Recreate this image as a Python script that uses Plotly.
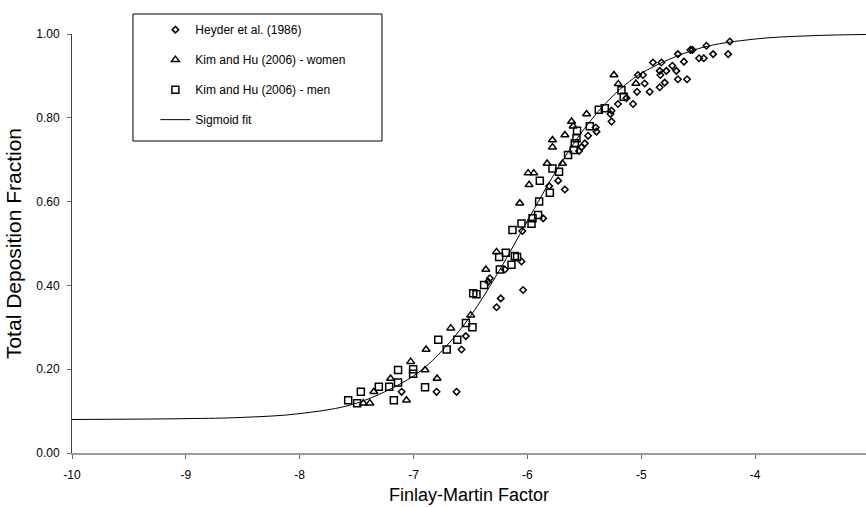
import plotly.graph_objects as go

# ---------------- data ----------------
heyder_x = [-7.105, -6.798, -6.622, -6.579, -6.541, -6.271, -6.234, -6.038, -6.345, -6.330,
            -6.198, -6.052, -6.045, -5.862, -5.809, -5.730, -5.671, -5.546, -5.525, -5.496,
            -5.467, -5.400, -5.393, -5.270, -5.261, -5.261, -5.204, -5.130, -5.072, -5.037,
            -4.926, -4.970, -5.029, -4.985, -4.838, -4.794, -4.832, -4.897, -4.823, -4.838,
            -4.780, -4.692, -4.727, -4.678, -4.625, -4.678, -4.598, -4.568, -4.550, -4.492,
            -4.451, -4.427, -4.369, -4.237, -4.222]
heyder_y = [0.146, 0.146, 0.146, 0.247, 0.279, 0.348, 0.369, 0.389, 0.409, 0.417,
            0.438, 0.457, 0.530, 0.560, 0.637, 0.650, 0.629, 0.721, 0.730, 0.739,
            0.757, 0.777, 0.767, 0.809, 0.791, 0.817, 0.833, 0.847, 0.833, 0.862,
            0.862, 0.882, 0.902, 0.902, 0.873, 0.884, 0.902, 0.932, 0.932, 0.912,
            0.912, 0.912, 0.924, 0.952, 0.934, 0.892, 0.892, 0.962, 0.962, 0.942,
            0.942, 0.972, 0.952, 0.952, 0.982]

women_x = [-7.442, -7.384, -7.349, -7.202, -7.062, -7.025, -6.899, -6.793, -6.890, -6.673,
           -6.498, -6.365, -6.271, -6.067, -5.985, -5.994, -5.944, -5.827, -5.692, -5.780,
           -5.780, -5.671, -5.612, -5.598, -5.480, -5.240, -5.202, -5.047]
women_y = [0.119, 0.119, 0.146, 0.178, 0.126, 0.218, 0.198, 0.178, 0.247, 0.298,
           0.329, 0.438, 0.480, 0.596, 0.640, 0.668, 0.668, 0.691, 0.691, 0.747,
           0.730, 0.759, 0.791, 0.780, 0.809, 0.902, 0.881, 0.882]

men_x = [-7.574, -7.495, -7.463, -7.305, -7.214, -7.173, -7.136, -7.136, -7.004, -7.004,
         -6.899, -6.783, -6.709, -6.616, -6.540, -6.483, -6.476, -6.447, -6.380, -6.248,
         -6.242, -6.190, -6.140, -6.111, -6.091, -6.131, -6.052, -5.964, -5.955, -5.906,
         -5.897, -5.803, -5.891, -5.780, -5.722, -5.643, -5.593, -5.584, -5.569, -5.564,
         -5.452, -5.373, -5.320, -5.174, -5.154]
men_y = [0.126, 0.119, 0.146, 0.158, 0.158, 0.126, 0.198, 0.168, 0.200, 0.189,
         0.157, 0.270, 0.247, 0.270, 0.310, 0.300, 0.381, 0.379, 0.401, 0.468,
         0.438, 0.478, 0.449, 0.470, 0.468, 0.532, 0.548, 0.547, 0.560, 0.568,
         0.600, 0.621, 0.650, 0.679, 0.671, 0.711, 0.723, 0.739, 0.751, 0.769,
         0.780, 0.819, 0.823, 0.866, 0.850]

# sigmoid fit curve at sample positions
fit_x = [-10.0, -9.0, -8.5, -8.0, -7.5, -7.0, -6.75, -6.5, -6.25, -6.0,
         -5.75, -5.5, -5.25, -5.0, -4.5, -4.0, -3.5, -3.0]
fit_y = [0.080, 0.082, 0.085, 0.094, 0.119, 0.184, 0.244, 0.327, 0.434, 0.554,
         0.672, 0.774, 0.852, 0.906, 0.965, 0.988, 0.996, 0.999]

x_tickvals = [-10, -9, -8, -7, -6, -5, -4, -3]
x_ticktext = ["-10", "-9", "-8", "-7", "-6", "-5", "-4", "-3"]
y_tickvals = [0.0, 0.2, 0.4, 0.6, 0.8, 1.0]
y_ticktext = ["0.00", "0.20", "0.40", "0.60", "0.80", "1.00"]

FONT = "Liberation Sans, Arial, sans-serif"

fig = go.Figure()
mk_line = dict(color="black", width=1.5)
fig.add_trace(go.Scatter(x=heyder_x, y=heyder_y, mode="markers", name="Heyder et al. (1986)",
                         legendgroup="a",
                         marker=dict(symbol="diamond-open", size=5, color="black", line=mk_line)))
fig.add_trace(go.Scatter(x=women_x, y=women_y, mode="markers", name="Kim and Hu (2006) - women",
                         legendgroup="b",
                         marker=dict(symbol="triangle-up-open", size=7, color="black", line=mk_line)))
fig.add_trace(go.Scatter(x=men_x, y=men_y, mode="markers", name="Kim and Hu (2006) - men",
                         legendgroup="c",
                         marker=dict(symbol="square-open", size=7, color="black", line=mk_line)))
fig.add_trace(go.Scatter(x=fit_x, y=fit_y, mode="lines", name="Sigmoid fit",
                         legendgroup="d",
                         line=dict(color="black", width=1, shape="spline")))

fig.update_layout(
    width=866, height=507,
    margin=dict(l=72, r=0, t=34, b=54),
    paper_bgcolor="white", plot_bgcolor="white",
    font=dict(family=FONT, size=12, color="black"),
    showlegend=True,
    legend=dict(x=0.105, y=1.045, xanchor="left", yanchor="top",
                bgcolor="rgba(0,0,0,0)", borderwidth=0,
                traceorder="grouped", tracegroupgap=11,
                font=dict(family=FONT, size=12, color="black")),
    shapes=[dict(type="rect", xref="paper", yref="paper",
                 x0=0.0768, x1=0.3904, y0=0.7446, y1=1.0477,
                 line=dict(color="black", width=1), fillcolor="rgba(0,0,0,0)", layer="above")],
)
fig.update_xaxes(range=[-10, -3.026], tickvals=x_tickvals, ticktext=x_ticktext,
                 showgrid=False, zeroline=False, showline=True, linecolor="#999999", linewidth=2,
                 ticks="outside", ticklen=4, tickcolor="#666666", ticklabelstandoff=6,
                 tickfont=dict(family=FONT, size=12),
                 title=dict(text="Finlay-Martin Factor", font=dict(family=FONT, size=18), standoff=7))
fig.update_yaxes(range=[0, 1], tickvals=y_tickvals, ticktext=y_ticktext,
                 showgrid=False, zeroline=False, showline=True, linecolor="#444444", linewidth=1,
                 ticks="outside", ticklen=4, tickcolor="#666666", ticklabelstandoff=5,
                 tickfont=dict(family=FONT, size=12),
                 title=dict(text="Total Deposition Fraction", font=dict(family=FONT, size=21), standoff=8))

fig.write_html("out.html", config={"displayModeBar": False},
               post_script="document.body.style.margin='0';document.body.style.overflow='hidden';")
